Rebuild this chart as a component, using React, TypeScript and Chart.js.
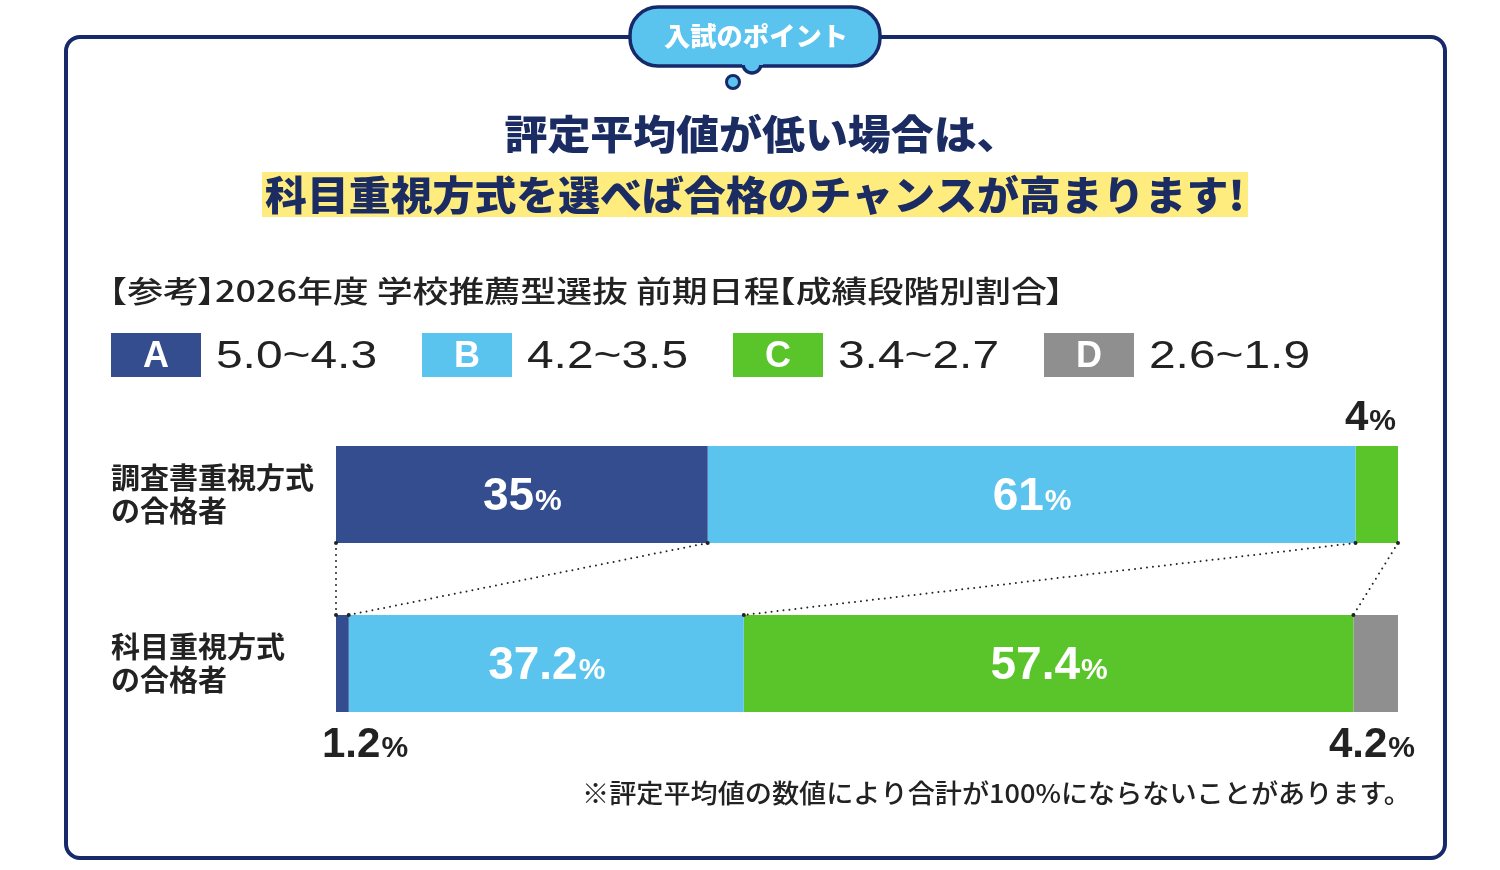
import React, { useEffect, useRef } from "react";
import { Chart, registerables } from "chart.js";

Chart.register(...registerables);

// ---------- data ----------
const categories = [
  ["調査書重視方式", "の合格者"],
  ["科目重視方式", "の合格者"],
];
const gradeLetters = ["A", "B", "C", "D"];
const gradeRanges = ["5.0~4.3", "4.2~3.5", "3.4~2.7", "2.6~1.9"];
const seriesA = [35, 1.2];
const seriesB = [61, 37.2];
const seriesC = [4, 57.4];
const seriesD = [0, 4.2];
const gradeColors = ["#344d8e", "#5bc4ee", "#5ac52a", "#8f8f8f"];

const badgeText = "入試のポイント";
const headline1 = "評定平均値が低い場合は、";
const headline2 = "科目重視方式を選べば合格のチャンスが高まります!";
const subtitle = "【参考】2026年度 学校推薦型選抜 前期日程【成績段階別割合】";
const footnote = "※評定平均値の数値により合計が100%にならないことがあります。";

const allSeries = [seriesA, seriesB, seriesC, seriesD];

// ---------- styles ----------
const NAVY = "#16296a";
const TITLE_NAVY = "#1b2c63";
const TEXT = "#222222";
const CJK = '"Noto Sans CJK JP", "Noto Sans", sans-serif';
const LAT = '"Liberation Sans", Arial, sans-serif';

function roundRectPath(ctx: CanvasRenderingContext2D, x: number, y: number, w: number, h: number, r: number) {
  ctx.beginPath();
  ctx.moveTo(x + r, y);
  ctx.lineTo(x + w - r, y);
  ctx.arcTo(x + w, y, x + w, y + r, r);
  ctx.lineTo(x + w, y + h - r);
  ctx.arcTo(x + w, y + h, x + w - r, y + h, r);
  ctx.lineTo(x + r, y + h);
  ctx.arcTo(x, y + h, x, y + h - r, r);
  ctx.lineTo(x, y + r);
  ctx.arcTo(x, y, x + r, y, r);
  ctx.closePath();
}

// draw text fitted to a given width (horizontal scale)
function fitText(
  ctx: CanvasRenderingContext2D,
  text: string,
  x: number,
  y: number,
  width: number,
  align: "left" | "center" | "right"
) {
  const w = ctx.measureText(text).width;
  const sx = width / w;
  ctx.save();
  ctx.translate(x, y);
  ctx.scale(sx, 1);
  ctx.textAlign = align;
  ctx.fillText(text, 0, 0);
  ctx.restore();
}

// proportional (palt-like) drawing for brackets, left aligned, fitted to width
const OPEN_BR = "【「（";
const CLOSE_BR = "】」）";
function paltText(ctx: CanvasRenderingContext2D, text: string, x: number, y: number, width: number, em: number) {
  const chars = Array.from(text);
  const items: { ch: string; dx: number; adv: number }[] = [];
  let total = 0;
  for (const ch of chars) {
    if (OPEN_BR.includes(ch)) {
      items.push({ ch, dx: -em * 0.55, adv: em * 0.45 });
      total += em * 0.45;
    } else if (CLOSE_BR.includes(ch)) {
      items.push({ ch, dx: -em * 0.05, adv: em * 0.45 });
      total += em * 0.45;
    } else {
      const a = ctx.measureText(ch).width;
      items.push({ ch, dx: 0, adv: a });
      total += a;
    }
  }
  const sx = width / total;
  ctx.save();
  ctx.translate(x, y);
  ctx.scale(sx, 1);
  ctx.textAlign = "left";
  let cx = 0;
  for (const it of items) {
    ctx.fillText(it.ch, cx + it.dx, 0);
    cx += it.adv;
  }
  ctx.restore();
}

function drawPct(
  ctx: CanvasRenderingContext2D,
  num: string,
  cx: number,
  baseline: number,
  big: number,
  small: number,
  color: string,
  minLeft: number,
  maxRight: number
) {
  ctx.save();
  ctx.fillStyle = color;
  ctx.textBaseline = "alphabetic";
  ctx.textAlign = "left";
  ctx.font = `bold ${big}px ${LAT}`;
  const wb = ctx.measureText(num).width;
  ctx.font = `bold ${small}px ${LAT}`;
  const ws = ctx.measureText("%").width;
  const total = wb + ws;
  let left = cx - total / 2;
  if (left < minLeft) left = minLeft;
  if (left + total > maxRight) left = maxRight - total;
  ctx.font = `bold ${big}px ${LAT}`;
  ctx.fillText(num, left, baseline);
  ctx.font = `bold ${small}px ${LAT}`;
  ctx.fillText("%", left + wb + 1, baseline);
  ctx.restore();
}

const decorPlugin = {
  id: "decor",
  beforeDraw(chart: any) {
    const ctx: CanvasRenderingContext2D = chart.ctx;
    ctx.save();
    ctx.fillStyle = "#ffffff";
    ctx.fillRect(0, 0, chart.width, chart.height);

    // outer frame
    ctx.strokeStyle = NAVY;
    ctx.lineWidth = 4;
    roundRectPath(ctx, 66, 37, 1379, 821, 14);
    ctx.stroke();

    // speech bubble badge
    ctx.lineWidth = 3.5;
    roundRectPath(ctx, 630, 7, 250, 59, 28);
    ctx.fillStyle = "#5bc4ee";
    ctx.fill();
    ctx.stroke();
    // tail bump
    ctx.beginPath();
    ctx.arc(752, 64, 9, 0, Math.PI, false);
    ctx.fillStyle = "#5bc4ee";
    ctx.fill();
    ctx.stroke();
    ctx.fillStyle = "#5bc4ee";
    ctx.fillRect(742, 58, 21, 7);
    // small circle
    ctx.beginPath();
    ctx.arc(733, 82, 6.5, 0, Math.PI * 2);
    ctx.fillStyle = "#5bc4ee";
    ctx.fill();
    ctx.lineWidth = 3;
    ctx.stroke();

    ctx.fillStyle = "#ffffff";
    ctx.font = `900 26px ${CJK}`;
    ctx.textBaseline = "middle";
    fitText(ctx, badgeText, 756, 36, 184, "center");

    // headlines
    ctx.fillStyle = TITLE_NAVY;
    ctx.font = `900 40px ${CJK}`;
    fitText(ctx, headline1, 762, 134, 515, "center");
    ctx.fillStyle = "#ffec7f";
    ctx.fillRect(262, 172, 986, 45);
    ctx.fillStyle = TITLE_NAVY;
    ctx.font = `900 40px ${CJK}`;
    fitText(ctx, headline2, 755, 195, 980, "center");

    // subtitle
    ctx.fillStyle = TEXT;
    ctx.font = `500 30px ${CJK}`;
    paltText(ctx, subtitle, 111, 291, 952, 30);

    // legend
    let lx = 111;
    for (let i = 0; i < gradeLetters.length; i++) {
      ctx.fillStyle = gradeColors[i];
      ctx.fillRect(lx, 333, 90, 44);
      ctx.fillStyle = "#ffffff";
      ctx.font = `bold 36px ${LAT}`;
      ctx.textAlign = "center";
      ctx.textBaseline = "alphabetic";
      ctx.fillText(gradeLetters[i], lx + 45, 367);
      ctx.fillStyle = TEXT;
      ctx.font = `39px ${LAT}`;
      const tx = lx + 105;
      const tw = 161;
      fitText(ctx, gradeRanges[i], tx, 368, tw, "left");
      lx = tx + tw + 45;
    }

    // footnote
    ctx.fillStyle = TEXT;
    ctx.font = `500 26px ${CJK}`;
    ctx.textBaseline = "middle";
    fitText(ctx, footnote, 1411, 793, 829, "right");
    ctx.restore();
  },
  afterDatasetsDraw(chart: any) {
    const ctx: CanvasRenderingContext2D = chart.ctx;
    const xScale = chart.scales.x;
    const metas = allSeries.map((_, i) => chart.getDatasetMeta(i));
    const b0 = metas[0].data[0];
    const b1 = metas[0].data[1];
    const yBottom0 = b0.y + b0.height / 2;
    const yTop1 = b1.y - b1.height / 2;

    const cum = (row: number, k: number) => {
      let s = 0;
      for (let i = 0; i < k; i++) s += allSeries[i][row];
      return s;
    };

    // dotted connectors
    ctx.save();
    ctx.strokeStyle = "#222222";
    ctx.fillStyle = "#222222";
    ctx.lineWidth = 2;
    ctx.lineCap = "round";
    ctx.setLineDash([0, 6]);
    for (let k = 0; k < allSeries.length; k++) {
      const x0 = xScale.getPixelForValue(cum(0, k));
      const x1 = xScale.getPixelForValue(cum(1, k));
      ctx.beginPath();
      ctx.moveTo(x0, yBottom0);
      ctx.lineTo(x1, yTop1);
      ctx.stroke();
    }
    ctx.setLineDash([]);
    for (let k = 0; k < allSeries.length; k++) {
      const x0 = xScale.getPixelForValue(cum(0, k));
      const x1 = xScale.getPixelForValue(cum(1, k));
      ctx.beginPath();
      ctx.arc(x0, yBottom0, 2, 0, Math.PI * 2);
      ctx.arc(x1, yTop1, 2, 0, Math.PI * 2);
      ctx.fill();
    }
    ctx.restore();

    // value labels
    const left = chart.chartArea.left;
    const right = chart.chartArea.right;
    for (let i = 0; i < allSeries.length; i++) {
      for (let r = 0; r < allSeries[i].length; r++) {
        const v = allSeries[i][r];
        if (!v) continue;
        const el = metas[i].data[r];
        const cx = (el.base + el.x) / 2;
        const num = `${v}`;
        if (v >= 10) {
          drawPct(ctx, num, cx, el.y + 15, 46, 30, "#ffffff", -1e4, 1e4);
        } else if (r === 0) {
          drawPct(ctx, num, cx, el.y - el.height / 2 - 16, 42, 30, TEXT, left - 14, right - 3);
        } else {
          drawPct(ctx, num, cx, el.y + el.height / 2 + 45, 42, 30, TEXT, left - 14, right + 16);
        }
      }
    }
  },
};

export default function App() {
  const ref = useRef<HTMLCanvasElement | null>(null);
  useEffect(() => {
    if (!ref.current) return;
    const chart = new Chart(ref.current, {
      type: "bar",
      data: {
        labels: categories as any,
        datasets: allSeries.map((s, i) => ({
          label: gradeLetters[i],
          data: s,
          backgroundColor: gradeColors[i],
          borderWidth: 0,
          barPercentage: 97 / 169,
          categoryPercentage: 1,
        })),
      },
      options: {
        indexAxis: "y",
        responsive: false,
        maintainAspectRatio: false,
        animation: false,
        devicePixelRatio: 1,
        layout: { padding: { left: 111, right: 102, top: 410, bottom: 122 } },
        plugins: {
          legend: { display: false },
          tooltip: { enabled: false },
          title: { display: false },
        },
        scales: {
          x: { stacked: true, min: 0, max: 100, display: false },
          y: {
            stacked: true,
            grid: { display: false },
            border: { display: false },
            ticks: {
              crossAlign: "far",
              color: TEXT,
              font: { family: CJK, size: 29, weight: "bold", lineHeight: 1.15 },
            },
            afterFit: (scale: any) => {
              scale.width = 225;
            },
          },
        },
      } as any,
      plugins: [decorPlugin],
    });
    return () => chart.destroy();
  }, []);
  return (
    <div style={{ position: "absolute", left: 0, top: 0, width: 1500, height: 870, background: "#fff" }}>
      <canvas ref={ref} width={1500} height={870} style={{ width: 1500, height: 870, display: "block" }} />
    </div>
  );
}
